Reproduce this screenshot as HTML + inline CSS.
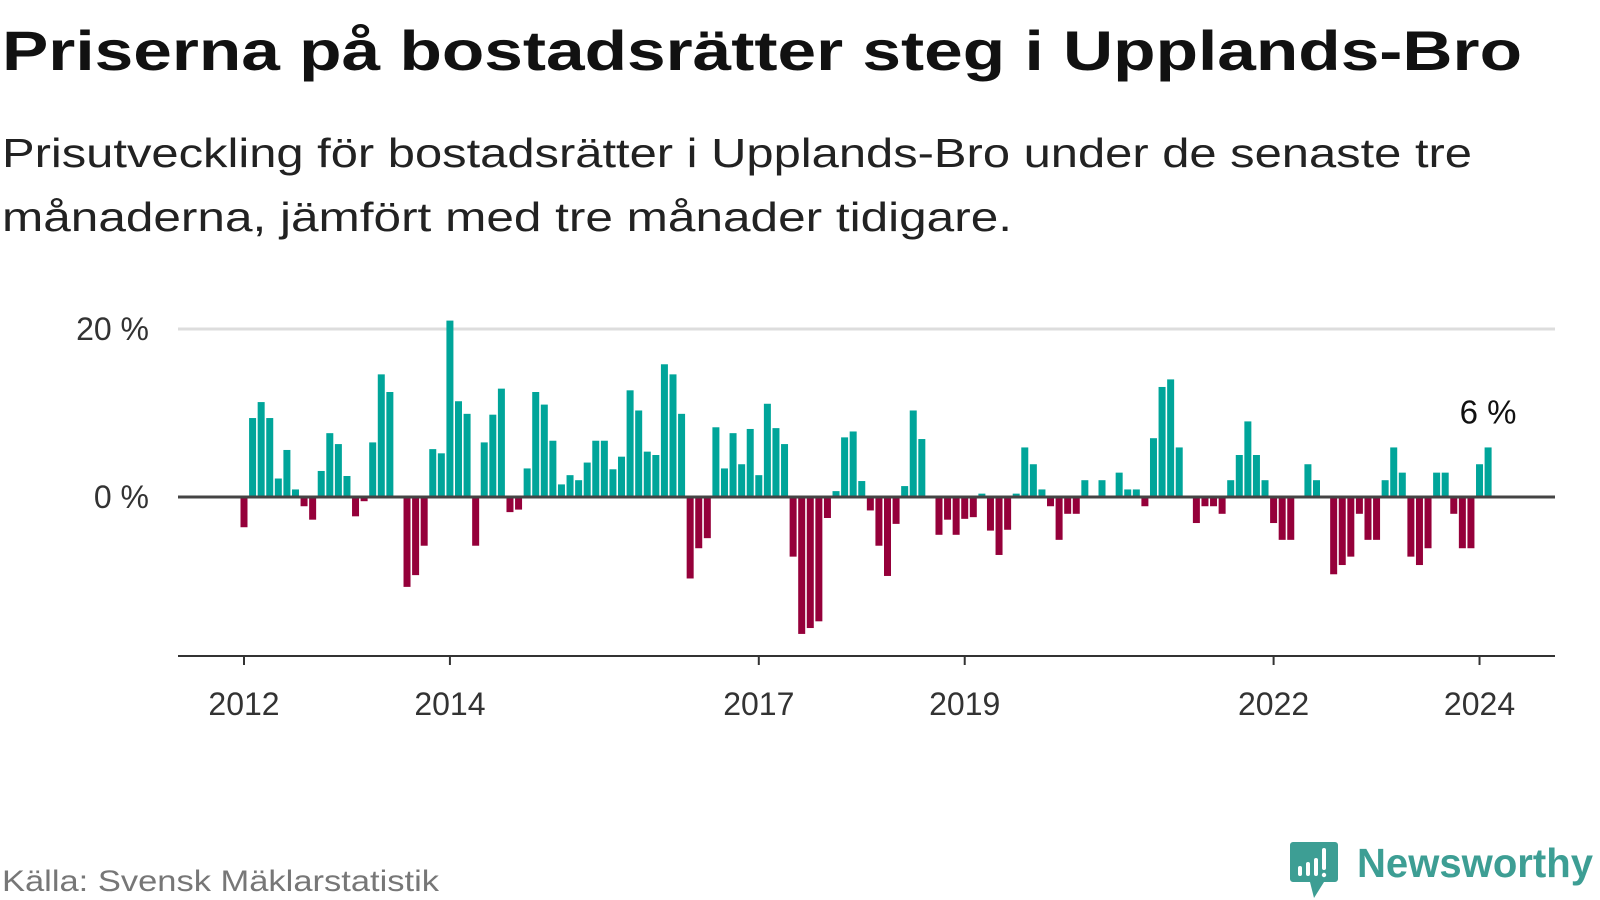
<!DOCTYPE html>
<html><head><meta charset="utf-8">
<style>
html,body{margin:0;padding:0;background:#fff;width:1600px;height:900px;overflow:hidden;}
svg{display:block;font-family:"Liberation Sans",sans-serif;}
</style></head>
<body>
<svg id="chart" width="1600" height="900" viewBox="0 0 1600 900">
  <text x="2" y="70" font-size="56" font-weight="bold" fill="#111" textLength="1520" lengthAdjust="spacingAndGlyphs">Priserna på bostadsrätter steg i Upplands-Bro</text>
  <text x="2" y="167" font-size="41" fill="#222" textLength="1470" lengthAdjust="spacingAndGlyphs">Prisutveckling för bostadsrätter i Upplands-Bro under de senaste tre</text>
  <text x="2" y="231" font-size="41" fill="#222" textLength="1010" lengthAdjust="spacingAndGlyphs">månaderna, jämfört med tre månader tidigare.</text>
  <g id="plot"></g>
  <text x="2" y="891" font-size="30" fill="#777" textLength="437" lengthAdjust="spacingAndGlyphs">Källa: Svensk Mäklarstatistik</text>
  <g>
    <path d="M1293 842 h42 a3 3 0 0 1 3 3 v34 a3 3 0 0 1 -3 3 h-11 l-10 16 l-4 -16 h-17 a3 3 0 0 1 -3 -3 v-34 a3 3 0 0 1 3 -3z" fill="#3d9e94"/>
    <rect x="1298" y="866" width="4" height="10" rx="2" fill="#fff"/>
    <rect x="1306" y="862" width="4" height="14" rx="2" fill="#fff"/>
    <rect x="1314" y="858" width="4" height="18" rx="2" fill="#fff"/>
    <rect x="1322" y="848" width="4" height="22" rx="2" fill="#fff"/>
    <circle cx="1324" cy="875" r="2.2" fill="#fff"/>
    <text x="1357" y="877" font-size="41" font-weight="bold" fill="#3d9e94" textLength="236" lengthAdjust="spacingAndGlyphs">Newsworthy</text>
  </g>
</svg>
<script>
const values = [-3.6,9.4,11.3,9.4,2.2,5.6,0.9,-1.1,-2.7,3.1,7.6,6.3,2.5,-2.3,-0.5,6.5,14.6,12.5,0,-10.7,-9.3,-5.8,5.7,5.2,
21.0,11.4,9.9,-5.8,6.5,9.8,12.9,-1.8,-1.5,3.4,12.5,11.0,6.7,1.5,2.6,2.0,4.1,6.7,6.7,3.3,4.8,12.7,10.3,5.4,
5.0,15.8,14.6,9.9,-9.7,-6.1,-4.9,8.3,3.4,7.6,3.9,8.1,2.6,11.1,8.2,6.3,-7.1,-16.3,-15.6,-14.8,-2.5,0.7,7.1,7.8,
1.9,-1.6,-5.8,-9.4,-3.2,1.3,10.3,6.9,0,-4.5,-2.7,-4.5,-2.6,-2.4,0.4,-4.0,-6.9,-3.9,0.4,5.9,3.9,0.9,-1.1,-5.1,
-2.0,-2.0,2.0,0,2.0,0,2.9,0.9,0.9,-1.1,7.0,13.1,14.0,5.9,0,-3.1,-1.1,-1.1,-2.0,2.0,5.0,9.0,5.0,2.0,
-3.1,-5.1,-5.1,0,3.9,2.0,0,-9.2,-8.1,-7.1,-2.0,-5.1,-5.1,2.0,5.9,2.9,-7.1,-8.1,-6.1,2.9,2.9,-2.0,-6.1,-6.1,3.9,5.9];
const tickYears = ["2012","2014","2017","2019","2022","2024"];
const tickIndex = [0,24,60,84,120,144];
const yTicks = [0,20];
const yTickLabels = ["0 %","20 %"];

const NS="http://www.w3.org/2000/svg";
const g=document.getElementById('plot');
const x=i=>244+i*8.58;
const y=v=>497-v*8.4;
function mk(tag,attrs){const e=document.createElementNS(NS,tag);for(const k in attrs)e.setAttribute(k,attrs[k]);g.appendChild(e);return e;}
yTicks.forEach((t,k)=>{
  if(t!==0){const l=mk('line',{x1:178,x2:1555,y1:y(t),y2:y(t),stroke:'#ddd','stroke-width':3});
  
  }
  const tx=mk('text',{x:149,y:y(t)+11,'font-size':32,fill:'#333','text-anchor':'end'});
  tx.textContent=yTickLabels[k];
  
  
});
values.forEach((v,i)=>{
  if(v===0)return;
  const r=mk('rect',{x:x(i)-3.5,width:7,y:v>0?y(v):y(0),height:Math.abs(v)*8.4,fill:v>0?'#00a59a':'#95003a'});
  
  
});
const z=mk('line',{x1:178,x2:1555,y1:y(0),y2:y(0),stroke:'#444','stroke-width':3});


const ax=mk('line',{x1:178,x2:1555,y1:656,y2:656,stroke:'#333','stroke-width':2});


tickIndex.forEach((ti,k)=>{
  const tk=mk('line',{x1:x(ti),x2:x(ti),y1:656,y2:665,stroke:'#333','stroke-width':2});
  
  
  const t=mk('text',{x:x(ti),y:715,'font-size':32,fill:'#333','text-anchor':'middle'});
  t.textContent=tickYears[k];
  
  
});
const last=values.length-1;
const lab=mk('text',{x:x(last),y:y(values[last])-24,'font-size':33,fill:'#111','text-anchor':'middle'});
lab.textContent=Math.round(values[last])+' %';


</script>
</body></html>
